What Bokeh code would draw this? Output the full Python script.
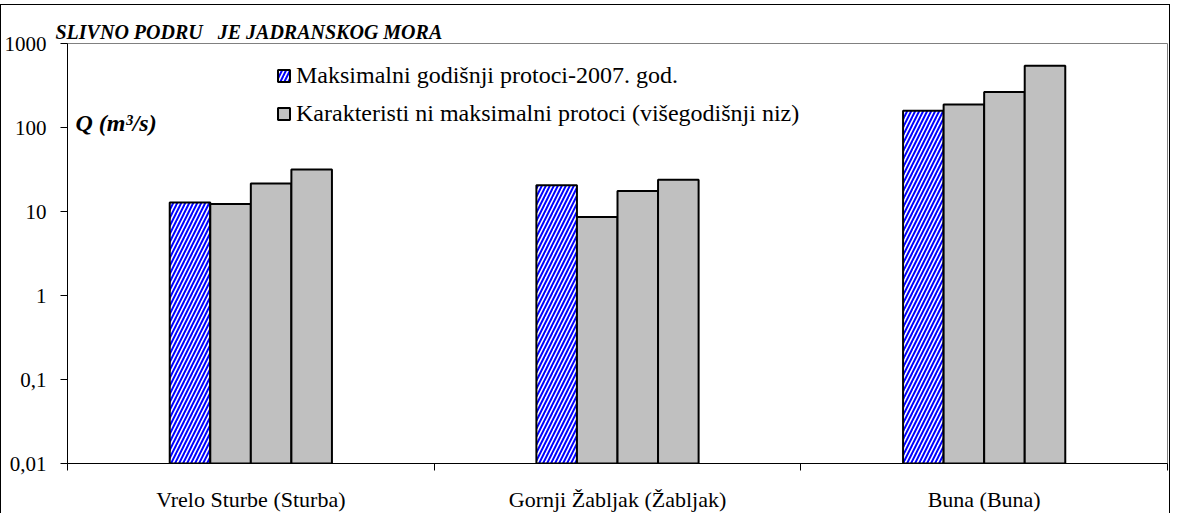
from bokeh.plotting import figure
from bokeh.layouts import column
from bokeh.models import (ColumnDataSource, Range1d, FixedTicker, LinearAxis, Spacer,
                          CustomJSTickFormatter, Label, Legend, LegendItem, Title)
from bokeh.transform import dodge
from bokeh.embed import file_html
from bokeh.resources import INLINE

# ---- data ----
categories = ["Vrelo Sturbe (Sturba)", "Gornji Žabljak (Žabljak)", "Buna (Buna)"]
q_max_2007 = [12.8, 20.6, 158]          # Maksimalni godišnji protoci-2007. god.
q_char_1 = [12.3, 8.6, 188]             # Karakteristični maksimalni protoci
q_char_2 = [21.6, 17.5, 264]
q_char_3 = [31.7, 23.8, 542]
y_ticks = [0.01, 0.1, 1, 10, 100, 1000]
title_text = "SLIVNO PODRU\u00a0\u00a0 JE JADRANSKOG MORA"
y_label_text = "Q (m³/s)"
legend_labels = ["Maksimalni godišnji protoci-2007. god.",
                 "Karakteristi ni maksimalni protoci (višegodišnji niz)"]

FONT = "'Liberation Serif', serif"
n = len(categories)
centers = [i + 0.5 for i in range(n)]
bounds = [float(i) for i in range(n + 1)]
bw = 0.1106

src = ColumnDataSource(dict(x=centers, q2007=q_max_2007, c1=q_char_1,
                            c2=q_char_2, c3=q_char_3))

p = figure(width=1170, height=509, x_range=Range1d(0, n),
           y_range=Range1d(y_ticks[0], y_ticks[-1]), y_axis_type="log",
           x_axis_type=None, output_backend="svg", toolbar_location=None,
           min_border_left=65, min_border_right=4, min_border_top=38,
           min_border_bottom=43)
p.styles = {"border-top": "1px solid black", "border-left": "1px solid black",
            "border-right": "1px solid black"}
p.grid.visible = False
p.outline_line_color = "#808080"
p.outline_line_width = 1
p.background_fill_color = "white"
p.border_fill_color = "white"

p.title = Title(text=title_text, align="left", offset=-12, standoff=2,
                text_font=FONT, text_font_style="bold italic",
                text_font_size="20px", text_color="black")

# y axis
ya = p.yaxis[0]
ya.ticker = FixedTicker(ticks=y_ticks)
ya.formatter = CustomJSTickFormatter(
    code="return Number(tick.toPrecision(6)).toString().replace('.', ',');")
ya.major_label_text_font = FONT
ya.major_label_text_font_size = "21px"
ya.major_label_text_color = "black"
ya.major_tick_out = 7
ya.major_tick_in = 0
ya.minor_tick_out = 0
ya.minor_tick_in = 0
ya.major_label_standoff = 14
ya.axis_line_color = "black"
ya.major_tick_line_color = "black"

# x axis: labels at category centres, tick marks at category boundaries
xa = LinearAxis(ticker=FixedTicker(ticks=centers, minor_ticks=bounds),
                major_label_overrides={c: cat for c, cat in zip(centers, categories)})
xa.major_tick_out = 0
xa.major_tick_in = 0
xa.minor_tick_out = 7
xa.minor_tick_in = 0
xa.minor_tick_line_color = "black"
xa.axis_line_color = "black"
xa.major_label_text_font = FONT
xa.major_label_text_font_size = "22px"
xa.major_label_text_color = "black"
xa.major_label_standoff = 16
p.add_layout(xa, "below")

common = dict(source=src, width=bw, bottom=y_ticks[0], line_color="black", line_width=2)
r0 = p.vbar(x=dodge("x", -1.5 * bw, range=p.x_range), top="q2007",
            fill_color="white", hatch_pattern="/", hatch_color="#0000FF",
            hatch_weight=2, hatch_scale=8, **common)
r1 = p.vbar(x=dodge("x", -0.5 * bw, range=p.x_range), top="c1", fill_color="#C0C0C0", **common)
r2 = p.vbar(x=dodge("x", 0.5 * bw, range=p.x_range), top="c2", fill_color="#C0C0C0", **common)
r3 = p.vbar(x=dodge("x", 1.5 * bw, range=p.x_range), top="c3", fill_color="#C0C0C0", **common)

legend = Legend(items=[LegendItem(label=legend_labels[0], renderers=[r0]),
                       LegendItem(label=legend_labels[1], renderers=[r1])],
                location=(209, 336), orientation="vertical",
                border_line_alpha=0, background_fill_alpha=0, padding=0, margin=0,
                spacing=11, glyph_width=15, glyph_height=15, label_height=20,
                label_standoff=5, label_text_font=FONT, label_text_font_size="24px",
                label_text_color="black")
p.add_layout(legend)

p.add_layout(Label(x=0, y=y_ticks[-1], x_offset=8, y_offset=-79, text=y_label_text,
                   text_font=FONT, text_font_style="bold italic",
                   text_font_size="24px", text_baseline="alphabetic",
                   text_align="left", text_color="black"))

layout = column(Spacer(width=10, height=4), p, spacing=0,
                styles={"margin-bottom": "-6px"})

open("out.html", "w").write(file_html(layout, INLINE))
